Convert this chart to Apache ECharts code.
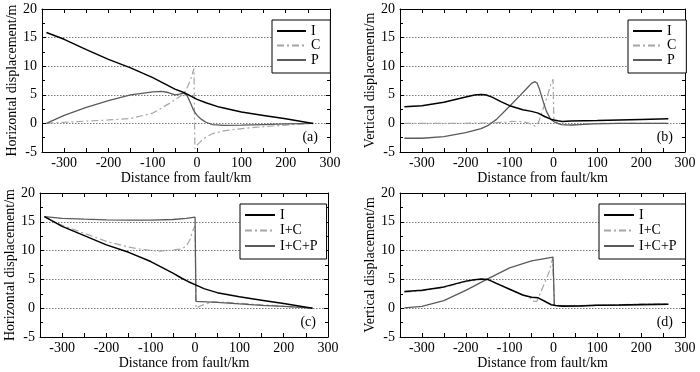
<!DOCTYPE html>
<html>
<head>
<meta charset="utf-8">
<script src="https://cdn.jsdelivr.net/npm/echarts@6/dist/echarts.min.js"></script>
<style>
html,body{margin:0;padding:0;background:#fff;}
#chart{width:700px;height:372px;}
</style>
</head>
<body>
<div id="chart"></div>
<script>
// ---- data (distance km, displacement m) ----
const xTickLabels = [-300, -200, -100, 0, 100, 200, 300];
const yTickLabels = [-5, 0, 5, 10, 15, 20];

const panelA_I = [[-340,15.9],[-300,14.7],[-250,12.9],[-200,11.2],[-150,9.7],[-100,8.0],[-75,7.0],[-50,6.0],[-30,5.4],[-15,4.8],[0,4.2],[20,3.6],[50,2.85],[100,2.0],[150,1.4],[200,0.8],[262,0]];
const panelA_C = [[-340,0],[-300,0.2],[-250,0.4],[-200,0.6],[-150,0.85],[-100,1.8],[-80,2.7],[-60,3.6],[-45,4.4],[-33,5.0],[-25,5.8],[-18,7.0],[-12,8.3],[-7,9.6],[-5,-4.4],[0,-3.8],[10,-3.0],[20,-2.4],[35,-1.8],[60,-1.3],[90,-1.0],[130,-0.7],[170,-0.45],[210,-0.25],[260,0]];
const panelA_P = [[-340,0],[-300,1.4],[-250,2.8],[-200,4.0],[-150,5.0],[-100,5.5],[-80,5.6],[-65,5.4],[-50,5.0],[-40,5.1],[-30,5.3],[-22,4.8],[-15,3.6],[-8,2.3],[0,1.4],[10,0.7],[20,0.2],[35,-0.2],[60,-0.35],[100,-0.3],[150,-0.2],[200,-0.1],[262,0]];

const panelB_I = [[-340,2.9],[-300,3.1],[-250,3.7],[-200,4.6],[-180,4.95],[-166,5.05],[-155,5.0],[-140,4.6],[-120,3.8],[-100,3.1],[-70,2.4],[-50,2.1],[-35,1.8],[-20,1.2],[-5,0.7],[10,0.45],[20,0.35],[40,0.4],[100,0.5],[150,0.6],[200,0.7],[262,0.8]];
const panelB_C = [[-340,0],[-250,0],[-150,0.05],[-110,0.2],[-95,0.35],[-70,0.3],[-55,0],[-42,-0.5],[-34,0.2],[-25,2.2],[-15,4.5],[-6,6.8],[-1,7.7],[1,0.5],[10,0],[20,-0.2],[50,-0.2],[100,0],[262,0]];
const panelB_P = [[-340,-2.6],[-300,-2.6],[-250,-2.3],[-200,-1.6],[-165,-0.9],[-150,-0.4],[-130,0.7],[-100,3.0],[-76,4.9],[-60,6.2],[-50,7.0],[-42,7.3],[-37,7.0],[-32,6.0],[-25,4.2],[-16,2.1],[-7,0.8],[3,0.2],[18,-0.2],[40,-0.3],[90,-0.1],[150,0],[262,0]];

const panelC_I = [[-340,15.9],[-300,14.2],[-250,12.6],[-200,11.0],[-150,9.7],[-100,8.1],[-75,7.1],[-50,6.1],[-30,5.2],[-15,4.6],[0,4.1],[20,3.4],[50,2.7],[100,2.0],[150,1.4],[200,0.8],[265,0]];
const panelC_IC = [[-340,15.9],[-300,14.4],[-250,13.0],[-200,11.6],[-150,10.6],[-120,10.2],[-80,9.9],[-50,10.1],[-30,10.3],[-20,10.8],[-12,11.8],[-5,13.5],[0,14.3],[2,0],[15,0.5],[40,1.1],[70,1.0],[100,0.85],[150,0.6],[200,0.35],[265,0]];
const panelC_ICP = [[-340,15.9],[-300,15.6],[-250,15.45],[-200,15.35],[-150,15.3],[-100,15.3],[-50,15.4],[-20,15.6],[0,15.8],[2,1.2],[50,1.0],[100,0.75],[150,0.5],[200,0.3],[265,0]];

const panelD_I = [[-340,2.9],[-300,3.1],[-250,3.7],[-200,4.7],[-180,4.95],[-165,5.05],[-150,5.0],[-130,4.3],[-100,3.3],[-70,2.3],[-50,1.9],[-35,1.8],[-20,1.2],[-5,0.6],[5,0.45],[20,0.35],[60,0.4],[100,0.5],[150,0.55],[200,0.65],[262,0.7]];
const panelD_IC = [[-340,2.8],[-300,3.0],[-250,3.6],[-200,4.6],[-165,5.0],[-150,4.95],[-130,4.3],[-100,3.3],[-70,2.3],[-55,1.9],[-45,1.2],[-38,1.2],[-30,2.6],[-20,4.4],[-10,6.3],[-2,8.6],[2,0.5],[20,0.4],[60,0.45],[100,0.5],[150,0.6],[200,0.7],[262,0.75]];
const panelD_ICP = [[-340,0.05],[-300,0.3],[-250,1.3],[-200,3.1],[-150,5.1],[-100,7.0],[-50,8.2],[-20,8.6],[-1,8.85],[2,0.5],[20,0.45],[60,0.45],[100,0.5],[150,0.55],[200,0.6],[262,0.65]];

const FONT = "'Liberation Serif', 'Times New Roman', serif";
const FS = 14;
const grids = [
  {left: 42, top: 9, width: 288, height: 143},
  {left: 400, top: 9, width: 285, height: 143},
  {left: 40, top: 193, width: 288, height: 144},
  {left: 400, top: 193, width: 285, height: 144}
];
const yNames = ['Horizontal displacement/m', 'Vertical displacement/m', 'Horizontal displacement/m', 'Vertical displacement/m'];
const xNameGaps = [17, 17, 19, 19];
const yNameGaps = [15, 19, 15.5, 18];
const panelLabels = ['(a)', '(b)', '(c)', '(d)'];

const xAxes = [], yAxes = [];
grids.forEach((g, i) => {
  const base = {
    type: 'value', gridIndex: i, min: -350, max: 300, interval: 50,
    axisLine: {show: true, onZero: false, lineStyle: {color: '#000', width: 1}},
    axisTick: {show: true, inside: true, length: 4, lineStyle: {color: '#000'}},
    splitLine: {show: false}
  };
  xAxes.push(Object.assign({}, base, {
    position: 'bottom',
    name: 'Distance from fault/km', nameLocation: 'middle', nameGap: xNameGaps[i],
    nameTextStyle: {fontFamily: FONT, fontSize: FS, color: '#000'},
    axisLabel: {show: true, margin: 4, fontFamily: FONT, fontSize: FS, color: '#000',
      formatter: v => xTickLabels.includes(v) ? String(v) : ''}
  }));
  xAxes.push(Object.assign({}, base, {position: 'top', axisLabel: {show: false}}));
  const ybase = {
    type: 'value', gridIndex: i, min: -5, max: 20, interval: 5,
    axisLine: {show: true, onZero: false, lineStyle: {color: '#000', width: 1}},
    axisTick: {show: true, inside: true, length: 4, lineStyle: {color: '#000'}},
    minorTick: {show: true, splitNumber: 2, length: 3, lineStyle: {color: '#000'}}
  };
  yAxes.push(Object.assign({}, ybase, {
    position: 'left',
    name: yNames[i], nameLocation: 'middle', nameGap: yNameGaps[i],
    nameTextStyle: {fontFamily: FONT, fontSize: FS, color: '#000'},
    axisLabel: {show: true, margin: 5, fontFamily: FONT, fontSize: FS, color: '#000',
      formatter: v => yTickLabels.includes(v) ? String(v) : ''},
    splitLine: {show: true, showMinLine: false, showMaxLine: false,
      lineStyle: {color: '#7a7a7a', type: [1.5, 1.5], width: 1}}
  }));
  yAxes.push(Object.assign({}, ybase, {position: 'right', axisLabel: {show: false}, splitLine: {show: false}}));
});

const styleI = {color: '#000', width: 1.5, type: 'solid'};
const styleC = {color: '#a6a6a6', width: 1.2, type: [7, 3, 2, 3]};
const styleP = {color: '#5a5a5a', width: 1.3, type: 'solid'};

function mk(name, data, gi, ls, z) {
  return {
    type: 'line', name: name, data: data, xAxisIndex: gi * 2, yAxisIndex: gi * 2,
    showSymbol: false, symbol: 'none', smooth: false,
    lineStyle: ls, itemStyle: {color: ls.color}, z: z, silent: true
  };
}
const series = [
  mk('C', panelA_C, 0, styleC, 2), mk('P', panelA_P, 0, styleP, 3), mk('I', panelA_I, 0, styleI, 4),
  mk('C', panelB_C, 1, styleC, 2), mk('P', panelB_P, 1, styleP, 3), mk('I', panelB_I, 1, styleI, 4),
  mk('I+C', panelC_IC, 2, styleC, 2), mk('I+C+P', panelC_ICP, 2, styleP, 3), mk('I', panelC_I, 2, styleI, 4),
  mk('I+C', panelD_IC, 3, styleC, 3), mk('I+C+P', panelD_ICP, 3, styleP, 3), mk('I', panelD_I, 3, styleI, 4)
];

function legend(left, top, names, iw, gap, padR) {
  return {
    show: true, orient: 'vertical', left: left, top: top, data: names,
    itemWidth: iw, itemHeight: 14, itemGap: gap, padding: [4, padR, 6, 4],
    borderColor: '#000', borderWidth: 1, backgroundColor: '#fff', borderRadius: 0,
    selectedMode: false,
    itemStyle: {opacity: 0, borderWidth: 0},
    textStyle: {fontFamily: FONT, fontSize: FS, color: '#000', lineHeight: 14}
  };
}
const legends = [
  legend(272, 20, ['I', 'C', 'P'], 29, 0.5, 10),
  legend(628, 20, ['I', 'C', 'P'], 29, 0.5, 10),
  legend(240, 204, ['I', 'I+C', 'I+C+P'], 30, 1.5, 9),
  legend(599, 204, ['I', 'I+C', 'I+C+P'], 30, 1.5, 9)
];

const graphics = panelLabels.map((t, i) => ({
  type: 'text', z: 100,
  x: grids[i].left + grids[i].width - 12, y: grids[i].top + grids[i].height - 15,
  style: {text: t, fontFamily: FONT, fontSize: FS, fill: '#000', align: 'right', verticalAlign: 'middle'}
}));

const chart = echarts.init(document.getElementById('chart'), null, {renderer: 'canvas'});
chart.setOption({
  animation: false,
  backgroundColor: '#fff',
  grid: grids.map(g => Object.assign({containLabel: false, outerBoundsMode: 'none'}, g)),
  xAxis: xAxes,
  yAxis: yAxes,
  legend: legends,
  series: series,
  graphic: graphics
});
</script>
</body>
</html>
